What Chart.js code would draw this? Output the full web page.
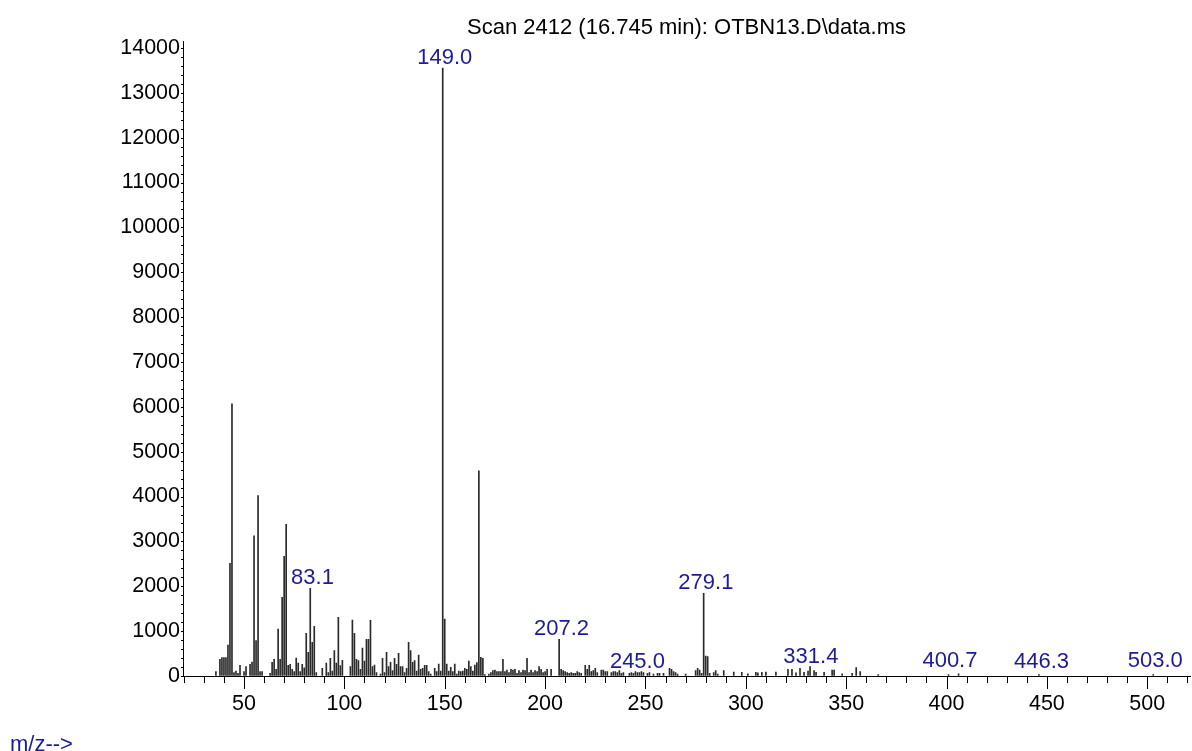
<!DOCTYPE html>
<html>
<head>
<meta charset="utf-8">
<title>Scan 2412</title>
<script src="https://cdn.jsdelivr.net/npm/chart.js@4.4.0/dist/chart.umd.min.js"></script>
<style>
    html, body { margin: 0; padding: 0; background: #fff; }
    #wrap { position: relative; width: 1192px; height: 751px; }
</style>
</head>
<body>
<div id="wrap"><canvas id="spectrum"></canvas></div>
<script>
// Mass spectrum, scan 2412
const titleText = 'Scan 2412 (16.745 min): OTBN13.D\\data.ms';
const axisCaption = 'm/z-->';

const massValues = [
    36, 38, 39, 40, 41, 42, 43, 44, 45, 46, 47, 48, 50, 51, 53, 54, 55, 56, 57, 58, 59,
    63, 64, 65, 66, 67, 68, 69, 70, 71, 72, 73, 74, 75, 76, 77, 78, 79, 80, 81, 82, 83, 84, 85, 86,
    89, 91, 92, 93, 94, 95, 96, 97, 98, 99, 103, 104, 105, 106, 107, 108, 109, 110, 111, 112, 113,
    114, 115, 116, 118, 119, 120, 121, 122, 123, 124, 125, 126, 127, 128, 129, 130, 131, 132, 133,
    134, 135, 136, 137, 138, 139, 140, 141, 142, 143, 145, 146, 147, 148, 149, 150, 151, 152, 153,
    154, 155, 156, 157, 158, 159, 160, 161, 162, 163, 164, 165, 166, 167, 168, 169, 170, 172, 173,
    174, 175, 176, 177, 178, 179, 180, 181, 182, 183, 184, 185, 186, 187, 188, 189, 190, 191, 192,
    193, 194, 195, 196, 197, 198, 199, 200, 201, 203, 207, 208, 209, 210, 211, 212, 213, 214, 215,
    216, 217, 218, 220, 221, 222, 223, 224, 225, 226, 228, 229, 230, 231, 233, 234, 235, 236, 237,
    238, 239, 242, 243, 244, 245, 246, 247, 248, 249, 251, 252, 254, 256, 257, 259, 262, 263, 264,
    265, 266, 270, 275, 276, 277, 278, 279, 280, 281, 282, 284, 285, 286, 289, 294, 298, 301, 305,
    306, 308, 310, 315, 321, 323, 325, 327, 329, 331, 332, 334, 335, 339, 343, 344, 348, 353, 355,
    357, 366, 401, 406, 446, 503
];
const abundances = [
    97, 372, 409, 409, 409, 691, 2513, 6066, 74, 111, 60, 238, 97, 208, 260, 312, 3122, 788, 4022, 100, 100,
    60, 305, 372, 150, 1048, 372, 1755, 2670, 3383, 238, 260, 150, 100, 401, 290, 100, 260, 180, 951, 528, 1955, 751, 1108, 74,
    170, 290, 74, 394, 111, 565, 290, 1308, 230, 350, 210, 1249, 951, 372, 345, 149, 625, 334, 820, 820, 1240,
    208, 245, 74, 45, 394, 74, 528, 208, 305, 119, 394, 260, 506, 208, 208, 74, 171, 751, 565,
    305, 342, 111, 468, 149, 171, 238, 238, 97, 45, 171, 97, 268, 111, 13550, 1271, 268, 111, 193,
    97, 268, 45, 111, 97, 111, 171, 149, 334, 208, 111, 245, 297, 4573, 416, 394, 30, 45, 74,
    119, 134, 97, 97, 97, 372, 97, 134, 74, 149, 134, 149, 60, 119, 74, 134, 119, 394, 74,
    134, 74, 119, 97, 208, 149, 74, 97, 149, 149, 818, 149, 119, 97, 74, 60, 74, 60, 60,
    97, 74, 60, 238, 149, 238, 97, 119, 171, 74, 134, 134, 97, 97, 74, 97, 97, 74, 119,
    60, 74, 60, 74, 60, 97, 74, 74, 97, 74, 60, 74, 45, 60, 60, 60, 171, 149, 97,
    74, 45, 45, 119, 171, 134, 60, 1844, 446, 431, 60, 74, 120, 45, 119, 90, 80, 50, 80,
    70, 80, 90, 90, 149, 149, 70, 171, 80, 110, 208, 120, 80, 80, 134, 134, 50, 60, 186,
    97, 30, 30, 50, 30, 30
];

// labelled peaks: text, position and the height the label sits on
const peakLabels = ['149.0', '83.1', '207.2', '245.0', '279.1', '331.4', '400.7', '446.3', '503.0'];
const peakLabelMz = [149.0, 83.1, 207.2, 245.0, 279.1, 331.4, 400.7, 446.3, 503.0];
const peakLabelAt = [13550, 1955, 818, 97, 1844, 208, 110, 90, 110];

const xTickValues = [50, 100, 150, 200, 250, 300, 350, 400, 450, 500];
const yTickValues = [0, 1000, 2000, 3000, 4000, 5000, 6000, 7000, 8000, 9000, 10000, 11000, 12000, 13000, 14000];

const FONT = "'Liberation Sans', Arial, sans-serif";
const LABEL_BLUE = '#1c1c96';

Chart.defaults.font.family = FONT;
Chart.defaults.color = '#000';

// small tick marks on both axes (minor every 10 / 200, long ticks every 50)
const axisTicks = {
    id: 'axisTicks',
    afterDraw(chart) {
        const {ctx, chartArea: area, scales: {x, y}} = chart;
        ctx.save();
        ctx.strokeStyle = '#000';
        ctx.lineWidth = 1;
        ctx.beginPath();
        for (let v = 20; v <= x.max; v += 10) {
            const px = Math.round(x.getPixelForValue(v)) + 0.5;
            const len = v % 50 === 0 ? 13 : 7;
            ctx.moveTo(px, area.bottom);
            ctx.lineTo(px, area.bottom + len);
        }
        for (let v = 0; v <= 14000; v += 200) {
            const py = Math.round(y.getPixelForValue(v)) + 0.5;
            ctx.moveTo(area.left - 2, py);
            ctx.lineTo(area.left, py);
        }
        ctx.stroke();

        // axis caption under the plot
        ctx.fillStyle = LABEL_BLUE;
        ctx.font = '22px ' + FONT;
        ctx.textAlign = 'left';
        ctx.textBaseline = 'alphabetic';
        ctx.fillText(axisCaption, 10, 751);
        ctx.restore();
    }
};

// m/z value above selected peaks
const peakText = {
    id: 'peakText',
    afterDatasetsDraw(chart) {
        const {ctx, scales: {x, y}} = chart;
        ctx.save();
        ctx.fillStyle = LABEL_BLUE;
        ctx.font = '22px ' + FONT;
        ctx.textAlign = 'center';
        ctx.textBaseline = 'alphabetic';
        peakLabels.forEach((txt, i) => {
            const px = x.getPixelForValue(peakLabelMz[i]) + 2;
            const py = y.getPixelForValue(peakLabelAt[i]) - 4;
            ctx.fillText(txt, px, py);
        });
        ctx.restore();
    }
};

const ctx = document.getElementById('spectrum').getContext('2d');
new Chart(ctx, {
    type: 'bar',
    data: {
        datasets: [{
            data: massValues.map((m, i) => ({x: m, y: abundances[i]})),
            backgroundColor: '#2a2a2a',
            borderWidth: 0,
            barThickness: 1
        }]
    },
    options: {
        responsive: true,
        maintainAspectRatio: false,
        animation: false,
        layout: { padding: { left: 0, right: 2, top: 0, bottom: 0 } },
        plugins: {
            legend: { display: false },
            tooltip: { enabled: false },
            title: {
                display: true,
                text: titleText,
                fullSize: false,
                color: '#000',
                font: { size: 22, weight: 'normal' },
                padding: { top: 15, bottom: 0 }
            }
        },
        scales: {
            x: {
                type: 'linear',
                min: 19.6,
                max: 521.3,
                offset: false,
                afterBuildTicks: (scale) => { scale.ticks = xTickValues.map(v => ({value: v})); },
                afterFit: (scale) => { scale.height = 75; },
                grid: { display: true, drawOnChartArea: false, drawTicks: false, offset: false },
                border: { display: true, color: '#000', width: 1 },
                ticks: {
                    autoSkip: false,
                    maxRotation: 0,
                    padding: 15,
                    color: '#000',
                    font: { size: 21.5 },
                    callback: (v) => String(v)
                }
            },
            y: {
                min: 0,
                max: 14147,
                afterBuildTicks: (scale) => { scale.ticks = yTickValues.map(v => ({value: v})); },
                afterFit: (scale) => { scale.width = 183; },
                grid: { display: true, drawOnChartArea: false, drawTicks: false },
                border: { display: true, color: '#000', width: 1 },
                ticks: {
                    padding: 3,
                    color: '#000',
                    font: { size: 21.5 },
                    callback: (v) => String(v)
                }
            }
        }
    },
    plugins: [axisTicks, peakText]
});
</script>
</body>
</html>
